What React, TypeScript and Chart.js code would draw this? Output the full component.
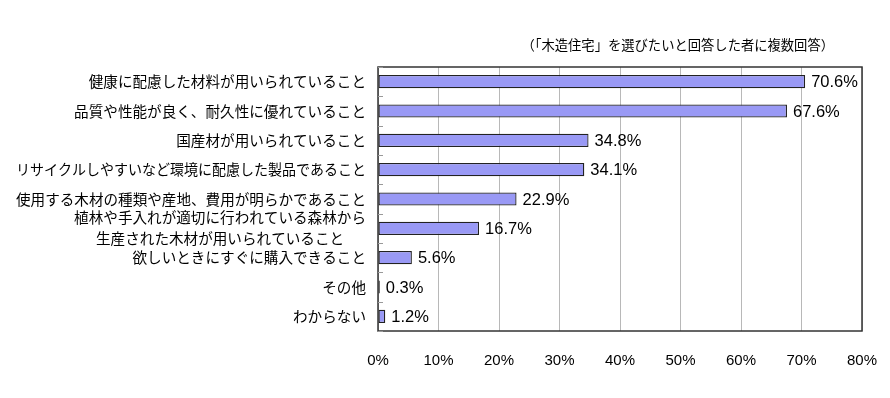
import React, { useEffect, useRef } from "react";
import { Chart, registerables } from "chart.js";

Chart.register(...registerables);

const categories: string[][] = [
  ["健康に配慮した材料が用いられていること"],
  ["品質や性能が良く、耐久性に優れていること"],
  ["国産材が用いられていること"],
  ["リサイクルしやすいなど環境に配慮した製品であること"],
  ["使用する木材の種類や産地、費用が明らかであること"],
  ["植林や手入れが適切に行われている森林から", "生産された木材が用いられていること"],
  ["欲しいときにすぐに購入できること"],
  ["その他"],
  ["わからない"],
];
const values: number[] = [70.6, 67.6, 34.8, 34.1, 22.9, 16.7, 5.6, 0.3, 1.2];
const xTicksMax = 80;
const xTickStep = 10;
const subtitle = "（「木造住宅」を選びたいと回答した者に複数回答）";

const JP_FONT = '"Noto Sans CJK JP", "Noto Sans", sans-serif';
const NUM_FONT = '"Liberation Sans", Arial, sans-serif';

const decorPlugin = {
  id: "decor",
  afterDatasetsDraw(chart: any) {
    const { ctx, chartArea } = chart;
    const yScale = chart.scales.y;
    const meta = chart.getDatasetMeta(0);
    ctx.save();
    // plot border
    ctx.strokeStyle = "#333";
    ctx.lineWidth = 1.5;
    ctx.strokeRect(chartArea.left, chartArea.top, chartArea.right - chartArea.left, chartArea.bottom - chartArea.top);
    // inner tick marks at category boundaries
    ctx.strokeStyle = "#999";
    ctx.lineWidth = 1;
    for (let i = 0; i <= categories.length; i++) {
      const y = Math.round(yScale.getPixelForValue(i - 0.5)) + 0.5;
      ctx.beginPath();
      ctx.moveTo(chartArea.left, y);
      ctx.lineTo(chartArea.left + 5, y);
      ctx.stroke();
    }
    // value labels
    ctx.fillStyle = "#000";
    ctx.font = `16.5px ${NUM_FONT}`;
    ctx.textAlign = "left";
    ctx.textBaseline = "middle";
    meta.data.forEach((bar: any, i: number) => {
      ctx.fillText(values[i].toFixed(1) + "%", bar.x + 6, bar.y + 1);
    });
    // category labels
    ctx.font = `14.6px ${JP_FONT}`;
    const rightX = chartArea.left - 12;
    const maxAllowed = rightX - 8;
    categories.forEach((lines, i) => {
      const cy = yScale.getPixelForValue(i);
      const widths = lines.map((l) => Math.min(ctx.measureText(l).width, maxAllowed));
      const maxW = Math.max(...widths);
      const centerX = rightX - maxW / 2;
      const lh = 21;
      lines.forEach((l, j) => {
        const y = cy + (j - (lines.length - 1) / 2) * lh;
        ctx.textAlign = "center";
        ctx.fillText(l, centerX, y, maxAllowed);
      });
    });
    // subtitle
    ctx.font = `13.3px ${JP_FONT}`;
    ctx.textAlign = "right";
    ctx.fillText(subtitle, chartArea.right - 28, chartArea.top - 22);
    ctx.restore();
  },
};

export default function App() {
  const ref = useRef<HTMLCanvasElement>(null);
  useEffect(() => {
    if (!ref.current) return;
    const chart = new Chart(ref.current, {
      type: "bar",
      data: {
        labels: categories.map((c) => c.join("")),
        datasets: [
          {
            data: values,
            backgroundColor: "#9999f5",
            borderColor: "#222",
            borderWidth: 1.3,
            borderSkipped: false,
            barPercentage: 0.45,
            categoryPercentage: 1,
          },
        ],
      },
      options: {
        indexAxis: "y",
        animation: false,
        responsive: true,
        maintainAspectRatio: false,
        layout: { padding: { top: 59, right: 20, bottom: 0, left: 0 } },
        plugins: { legend: { display: false }, tooltip: { enabled: false } },
        scales: {
          x: {
            min: 0,
            max: xTicksMax,
            ticks: {
              stepSize: xTickStep,
              callback: (v: any) => v + "%",
              font: { size: 15, family: NUM_FONT },
              color: "#000",
              padding: 3,
              maxRotation: 0,
            },
            grid: {
              color: "#b8b8b8",
              drawTicks: true,
              tickLength: 18,
              tickColor: "rgba(0,0,0,0)",
              lineWidth: 1,
            },
            border: { display: false },
            afterFit: (s: any) => {
              s.height = 59;
            },
          },
          y: {
            ticks: { display: false },
            grid: { display: false },
            border: { display: false },
            afterFit: (s: any) => {
              s.width = 370;
            },
          },
        },
      },
      plugins: [decorPlugin],
    });
    return () => chart.destroy();
  }, []);
  return (
    <div style={{ width: 874, height: 382, position: "relative" }}>
      <canvas ref={ref} />
    </div>
  );
}
